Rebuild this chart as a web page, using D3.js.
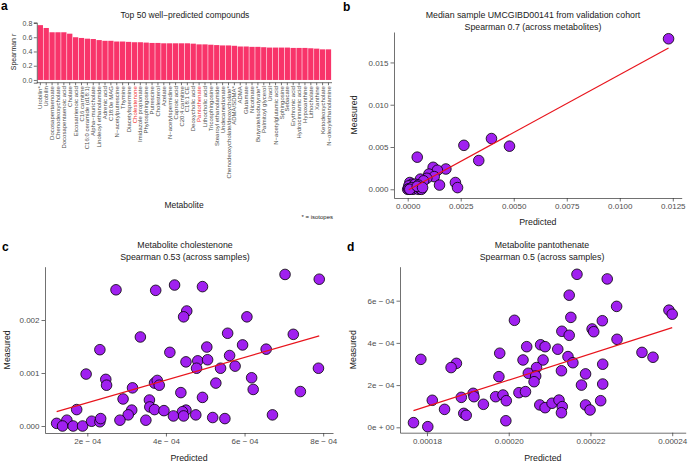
<!DOCTYPE html>
<html><head><meta charset="utf-8">
<script src="https://cdn.jsdelivr.net/npm/d3@7"></script>
<style>
body{margin:0;background:#fff;}
svg{font-family:"Liberation Sans",Arial,Helvetica,sans-serif;}
</style></head>
<body>
<script>
// ---------- DATA ----------
const metabolites = ["Urobilin*","Urobilin","Docosapentaenoate","Chenodeoxycholate","Docosapentaenoic acid","Cholate","Eicosatrienoic acid","C16 carnitine","C16:0 ceramide (d18:1)","Alpha\u2212muricholate","Linoleoyl ethanolamide","Adrenic acid","C18:0e MAG","N\u2212acetylputrescine","Thymine","Diacetylspermine","Cholestenone","Imidazole propionate","Phytosphingosine","Putrescine","Cholesterol","Azelate","N\u2212acetylspermidine","Caproic acid","C20:4 carnitine","C18:1 CE","Deoxycholic acid","Pantothenate","Lithocholic acid","Tricosphingosine","Stearoyl ethanolamide","Undecanedionate","Chenodeoxycholate/deoxycholate*","ADMA/SDMA*","ADMA","Glutamate","Nicotinate","Butyrate/isobutyrate*","Palmitoyl glycerol","Uracil","N\u2212acetylglutamic acid","Sphingosine","Sebacate","Erythronic acid","Hydrocinnamic acid","Hypoxanthine","Lithocholate","Xanthine","Ketodeoxycholate","N\u2212oleoylethanolamine"];
const spearmanR = [0.77,0.73,0.67,0.67,0.67,0.65,0.60,0.59,0.58,0.575,0.56,0.55,0.55,0.54,0.54,0.535,0.53,0.53,0.525,0.52,0.52,0.515,0.515,0.515,0.515,0.515,0.51,0.50,0.50,0.495,0.49,0.485,0.485,0.48,0.47,0.47,0.465,0.465,0.46,0.455,0.455,0.455,0.455,0.45,0.45,0.45,0.445,0.44,0.43,0.43];
const highlighted = ["Cholestenone","Pantothenate"];
const aYTicks = [0.0,0.2,0.4,0.6,0.8];
const aYTickLabels = ["0.0","0.2","0.4","0.6","0.8"];

// Panel b (per metabolite, one sample)
const bPredicted = [0.0123,0.00395,0.00265,0.0048,0.00045,0.00335,0.0012,0.0018,0.0014,0.001,0.00125,0.0009,0.0006,0.00075,0.00225,0.0015,0.00235,0.0001,0.0002,0.00005,0.0,0.00005,0.00015,0.00025,0.0003,0.0004,0.0005,0.0006,0.00065,0.00035,0.0005,0.0002,0.0001,0.00045,0.0007];
const bMeasured  = [0.0178,0.006,0.0052,0.0051,0.0038,0.0034,0.0026,0.0024,0.00225,0.0018,0.0015,0.0013,0.0012,0.001,0.0008,0.0005,0.0002,0.0008,0.0006,0.0004,0.0,0.00005,0.0001,0.0,0.0003,0.00015,0.0,0.00005,0.0,0.0006,0.0005,0.0002,0.0,0.00035,0.0002];
const bFitPredicted = [0.00005,0.0123];
const bFitMeasured  = [-0.00005,0.0167];
const bXTicks = [0,0.0025,0.005,0.0075,0.01,0.0125];
const bXTickLabels = ["0.0000","0.0025","0.0050","0.0075","0.0100","0.0125"];
const bYTicks = [0,0.005,0.01,0.015];
const bYTickLabels = ["0.000","0.005","0.010","0.015"];

// Panel c (cholestenone across samples)
const cPredicted = [2.73e-4,3.74e-4,4.22e-4,4.93e-4,7.03e-4,7.90e-4,4.53e-4,4.45e-4,6.06e-4,3.35e-4,5.57e-4,7.24e-4,2.32e-4,4.10e-4,5.04e-4,5.95e-4,6.55e-4,5.62e-4,4.51e-4,4.81e-4,5.06e-4,4.78e-4,5.39e-4,5.76e-4,7.88e-4,1.97e-4,2.47e-4,2.49e-4,3.15e-4,3.71e-4,3.78e-4,3.83e-4,5.27e-4,6.18e-4,6.22e-4,7.42e-4,4.38e-4,4.93e-4,2.91e-4,3.58e-4,3.59e-4,3.71e-4,3.13e-4,3.04e-4,3.95e-4,4.51e-4,4.42e-4,4.19e-4,4.45e-4,4.76e-4,1.73e-4,5.19e-4,5.50e-4,6.71e-4,2.83e-4,3.49e-4,1.22e-4,1.48e-4,1.37e-4,1.64e-4,1.88e-4,2.11e-4,2.32e-4,2.34e-4];
const cMeasured  = [2.57e-3,2.56e-3,2.66e-3,2.63e-3,2.86e-3,2.77e-3,2.17e-3,2.06e-3,2.06e-3,1.68e-3,1.75e-3,1.73e-3,1.44e-3,1.39e-3,1.49e-3,1.53e-3,1.45e-3,1.33e-3,1.21e-3,1.23e-3,1.25e-3,1.09e-3,1.09e-3,1.13e-3,1.09e-3,0.98e-3,0.88e-3,0.77e-3,0.72e-3,0.81e-3,0.86e-3,0.77e-3,0.81e-3,0.91e-3,0.69e-3,0.65e-3,0.63e-3,0.54e-3,0.51e-3,0.49e-3,0.36e-3,0.31e-3,0.30e-3,0.21e-3,0.29e-3,0.30e-3,0.27e-3,0.19e-3,0.19e-3,0.21e-3,0.31e-3,0.16e-3,0.14e-3,0.21e-3,0.11e-3,0.11e-3,0.05e-3,0.11e-3,0.0,0.0,0.0,0.09e-3,0.08e-3,0.14e-3];
const cFitPredicted = [1.22e-4,7.90e-4];
const cFitMeasured  = [0.27e-3,1.70e-3];
const cXTicks = [2e-4,4e-4,6e-4,8e-4];
const cXTickLabels = ["2e \u2212 04","4e \u2212 04","6e \u2212 04","8e \u2212 04"];
const cYTicks = [0,0.001,0.002];
const cYTickLabels = ["0.000","0.001","0.002"];

// Panel d (pantothenate across samples)
const dPredicted = [2.167e-4,2.241e-4,2.148e-4,2.264e-4,2.392e-4,2.400e-4,2.014e-4,2.152e-4,2.229e-4,2.130e-4,2.148e-4,2.204e-4,2.208e-4,2.265e-4,2.044e-4,2.078e-4,2.089e-4,2.120e-4,1.978e-4,1.785e-4,1.872e-4,1.859e-4,2.035e-4,2.084e-4,2.068e-4,2.145e-4,2.157e-4,2.326e-4,2.353e-4,2.230e-4,2.129e-4,2.048e-4,2.066e-4,2.062e-4,1.976e-4,2.188e-4,2.178e-4,2.230e-4,2.025e-4,2.041e-4,1.913e-4,1.915e-4,1.884e-4,1.968e-4,1.986e-4,1.994e-4,1.813e-4,1.843e-4,1.938e-4,1.890e-4,1.896e-4,2.076e-4,2.089e-4,2.106e-4,2.123e-4,2.131e-4,2.129e-4,2.188e-4,2.199e-4,2.225e-4,1.993e-4,1.767e-4,1.802e-4];
const dMeasured  = [7.25e-4,7.03e-4,6.26e-4,5.73e-4,5.55e-4,5.36e-4,5.07e-4,5.21e-4,5.05e-4,4.55e-4,4.36e-4,4.66e-4,4.53e-4,4.17e-4,3.82e-4,3.91e-4,3.82e-4,3.70e-4,3.51e-4,3.22e-4,3.03e-4,2.83e-4,3.19e-4,3.19e-4,2.83e-4,3.35e-4,3.06e-4,3.55e-4,3.32e-4,2.99e-4,2.68e-4,2.56e-4,2.43e-4,2.16e-4,2.40e-4,2.53e-4,2.00e-4,2.05e-4,1.64e-4,1.69e-4,1.61e-4,1.45e-4,1.42e-4,1.45e-4,1.53e-4,1.26e-4,1.28e-4,0.85e-4,1.09e-4,0.66e-4,0.57e-4,1.06e-4,0.93e-4,1.14e-4,1.29e-4,0.98e-4,0.69e-4,1.06e-4,0.82e-4,1.26e-4,0.31e-4,0.22e-4,0.03e-4];
const dFitPredicted = [1.767e-4,2.400e-4];
const dFitMeasured  = [0.79e-4,4.72e-4];
const dXTicks = [1.8e-4,2.0e-4,2.2e-4,2.4e-4];
const dXTickLabels = ["0.00018","0.00020","0.00022","0.00024"];
const dYTicks = [0,2e-4,4e-4,6e-4];
const dYTickLabels = ["0e + 00","2e \u2212 04","4e \u2212 04","6e \u2212 04"];

// ---------- DRAW ----------
const W = 688, H = 464;
const svg = d3.select("body").append("svg").attr("width", W).attr("height", H);
const axisColor = "#333", tickText = "#4d4d4d", textColor = "#1a1a1a";
const ptFill = "#A020F0", fitColor = "#E8141C";

function panelLetter(t, x, y) {
  svg.append("text").attr("x", x).attr("y", y).attr("font-size", 12).attr("font-weight", "bold").attr("fill", "#000").text(t);
}

// Panel a
(function(){
  const L = 36.8, R = 332, T = 22.4, B = 82.7;
  const x = d3.scaleBand().domain(metabolites).range([L, R]).paddingInner(0.1).paddingOuter(0.15);
  const y = d3.scaleLinear().domain([-0.0385, 0.8085]).range([B, T]);
  const g = svg.append("g");
  g.selectAll("rect").data(metabolites).join("rect")
    .attr("x", d => x(d)).attr("width", x.bandwidth())
    .attr("y", (d,i) => y(spearmanR[i])).attr("height", (d,i) => y(0) - y(spearmanR[i]))
    .attr("fill", "#F8346A");
  const ya = d3.axisLeft(y).tickValues(aYTicks).tickFormat((d,i)=>aYTickLabels[i]).tickSize(3).tickPadding(1.5);
  const gy = g.append("g").attr("transform", `translate(${L},0)`).call(ya);
  gy.select(".domain").attr("stroke", axisColor).attr("stroke-width", 0.7);
  gy.selectAll(".tick line").attr("stroke", axisColor).attr("stroke-width", 0.7);
  gy.selectAll("text").attr("font-size", 7).attr("fill", tickText).attr("font-family", null);
  const xa = d3.axisBottom(x).tickSize(2.5).tickPadding(1.5);
  const gx = g.append("g").attr("transform", `translate(0,${B})`).call(xa);
  gx.select(".domain").attr("stroke", axisColor).attr("stroke-width", 0.7).attr("d", `M${L},0H${R}`);
  gx.selectAll(".tick line").attr("stroke", axisColor).attr("stroke-width", 0.7);
  gx.selectAll("text").attr("font-size", 6).attr("font-family", null)
    .attr("fill", d => highlighted.includes(d) ? "#F03030" : tickText)
    .attr("text-anchor", "end").attr("transform", "rotate(-90)")
    .attr("x", -3.5).attr("y", 0).attr("dy", "0.35em");
  svg.append("text").attr("x", 185).attr("y", 17.5).attr("text-anchor", "middle").attr("font-size", 8.5).attr("fill", textColor).text("Top 50 well\u2212predicted compounds");
  svg.append("text").attr("transform", "translate(15.5,52) rotate(-90)").attr("text-anchor", "middle").attr("font-size", 7).attr("fill", textColor).text("Spearman r");
  svg.append("text").attr("x", 184).attr("y", 208).attr("text-anchor", "middle").attr("font-size", 8.5).attr("fill", textColor).text("Metabolite");
  svg.append("text").attr("x", 333).attr("y", 219).attr("text-anchor", "end").attr("font-size", 6).attr("fill", textColor).text("* = isotopes");
  panelLetter("a", 1, 10);
})();

function scatter(opts) {
  const {L, R, T, B, xd, yd, px, py, fx, fy, xt, xtl, yt, ytl, title1, title2, tcx, ty1, ylabX, xlabY} = opts;
  const x = d3.scaleLinear().domain(xd).range([L, R]);
  const y = d3.scaleLinear().domain(yd).range([B, T]);
  const g = svg.append("g");
  const gx = g.append("g").attr("transform", `translate(0,${B})`)
    .call(d3.axisBottom(x).tickValues(xt).tickFormat((d,i)=>xtl[i]).tickSize(3.5).tickPadding(2).tickSizeOuter(0));
  const gy = g.append("g").attr("transform", `translate(${L},0)`)
    .call(d3.axisLeft(y).tickValues(yt).tickFormat((d,i)=>ytl[i]).tickSize(3.5).tickPadding(2).tickSizeOuter(0));
  [gx, gy].forEach(a => {
    a.select(".domain").attr("stroke", axisColor).attr("stroke-width", 0.7);
    a.selectAll(".tick line").attr("stroke", axisColor).attr("stroke-width", 0.7);
    a.selectAll("text").attr("font-size", 8).attr("fill", tickText).attr("font-family", null);
  });
  g.selectAll("circle").data(px).join("circle")
    .attr("cx", d => x(d)).attr("cy", (d,i) => y(py[i])).attr("r", 5.3)
    .attr("fill", ptFill).attr("stroke", "#000").attr("stroke-width", 0.8);
  g.append("line").attr("x1", x(fx[0])).attr("y1", y(fy[0])).attr("x2", x(fx[1])).attr("y2", y(fy[1]))
    .attr("stroke", fitColor).attr("stroke-width", 1.2);
  svg.append("text").attr("x", tcx).attr("y", ty1).attr("text-anchor", "middle").attr("font-size", 8.8).attr("fill", textColor).text(title1);
  svg.append("text").attr("x", tcx).attr("y", ty1 + 12).attr("text-anchor", "middle").attr("font-size", 8.8).attr("fill", textColor).text(title2);
  svg.append("text").attr("transform", `translate(${ylabX},${(T+B)/2}) rotate(-90)`).attr("text-anchor", "middle").attr("font-size", 8.8).attr("fill", textColor).text("Measured");
  svg.append("text").attr("x", (L+R)/2).attr("y", xlabY).attr("text-anchor", "middle").attr("font-size", 8.8).attr("fill", textColor).text("Predicted");
}

scatter({L:394, R:681.7, T:32, B:198, xd:[-0.000646, 0.01292], yd:[-0.00103, 0.0186],
  px:bPredicted, py:bMeasured, fx:bFitPredicted, fy:bFitMeasured,
  xt:bXTicks, xtl:bXTickLabels, yt:bYTicks, ytl:bYTickLabels,
  title1:"Median sample UMCGIBD00141 from validation cohort", title2:"Spearman 0.7 (across metabolites)",
  tcx:533, ty1:17.5, ylabX:357, xlabY:225});
panelLetter("b", 343, 11);

scatter({L:45, R:333, T:266.7, B:433, xd:[0.0000924, 0.000825], yd:[-0.000132, 0.003006],
  px:cPredicted, py:cMeasured, fx:cFitPredicted, fy:cFitMeasured,
  xt:cXTicks, xtl:cXTickLabels, yt:cYTicks, ytl:cYTickLabels,
  title1:"Metabolite cholestenone", title2:"Spearman 0.53 (across samples)",
  tcx:185, ty1:247.5, ylabX:10, xlabY:461});
panelLetter("c", 2, 251);

scatter({L:400, R:685.7, T:266.7, B:432.7, xd:[0.0001734, 0.0002433], yd:[-0.0000256, 0.000761],
  px:dPredicted, py:dMeasured, fx:dFitPredicted, fy:dFitMeasured,
  xt:dXTicks, xtl:dXTickLabels, yt:dYTicks, ytl:dYTickLabels,
  title1:"Metabolite pantothenate", title2:"Spearman 0.5 (across samples)",
  tcx:542, ty1:247.5, ylabX:356, xlabY:461});
panelLetter("d", 347, 251);
</script>
</body></html>
